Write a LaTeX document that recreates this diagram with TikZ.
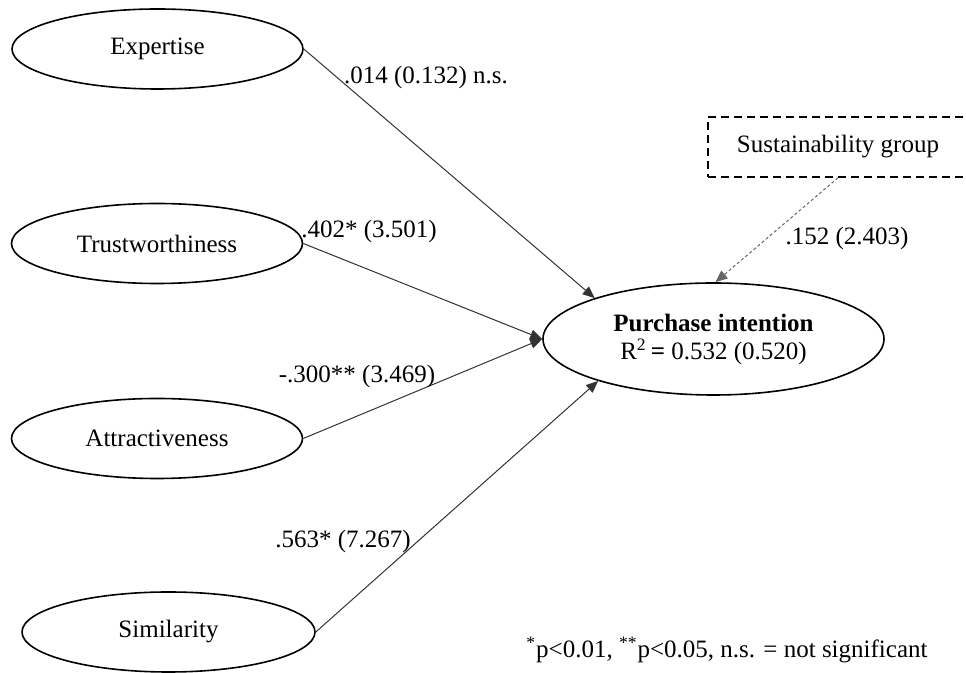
\documentclass[tikz,border=0pt]{standalone}
\usepackage{fontspec}
\setmainfont{Liberation Serif}
\usetikzlibrary{arrows.meta, shapes.geometric}

\begin{document}
\begin{tikzpicture}[x=0.5pt, y=-0.5pt,
  every node/.style={font=\fontsize{12.5}{14}\selectfont},
  construct/.style={ellipse, draw, line width=0.8pt, inner sep=0pt, minimum width=145.5pt, minimum height=40pt},
  moderator/.style={draw, line width=0.8pt, dash pattern=on 4pt off 2.5pt, inner sep=0pt, minimum width=130pt, minimum height=30pt},
  path/.style={draw=black!80, line width=0.5pt, -{Triangle[length=6pt, width=5pt]}},
  modpath/.style={path, draw=black!60, dash pattern=on 1.5pt off 1.2pt}]
\useasboundingbox (0,0) rectangle (966,673);
\node[construct] (exp) at (157.5,49) {Expertise};
\node[construct] (trust) at (157,243.5) {Trustworthiness};
\node[construct] (attr) at (157,438.5) {Attractiveness};
\node[construct, minimum width=146.5pt] (sim) at (168.5,632) {Similarity};
\node[construct, minimum width=170.5pt, minimum height=56pt, align=center] (pi) at (713.5,339) {\textbf{Purchase intention}\\R\textsuperscript{2}\,\textbf{=} 0.532 (0.520)};
\node[moderator] (grp) at (838,147) {Sustainability group};
%
\draw[path] (exp.east) -- (pi.161);
\draw[path] (trust.east) -- (pi.west);
\draw[path] (attr.east) -- (pi.west);
\draw[path] (sim.east) -- (pi.200);
\draw[modpath] (grp.south) -- (pi.88);
%
\node (cexp) at (426,77) {.014 (0.132) n.s.};
\node (ctrust) at (369,231) {.402* (3.501)};
\node (cattr) at (357,376) {-.300** (3.469)};
\node (csim) at (343,541) {.563* (7.267)};
\node (cgrp) at (847,238) {.152 (2.403)};
\node (note) at (727,650) {\textsuperscript{*}p<0.01, \textsuperscript{**}p<0.05, n.s. = not significant};
\end{tikzpicture}
\end{document}
